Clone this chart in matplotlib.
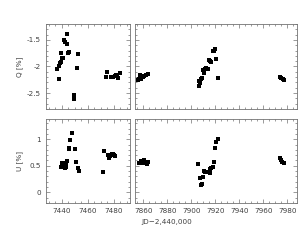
import numpy as np
import matplotlib
matplotlib.use("Agg")
import matplotlib.pyplot as plt
from matplotlib.ticker import MultipleLocator, FormatStrFormatter

# JD - 2,440,000 and polarization (%)
q_jd_a = [7436.8, 7437.9, 7437.9, 7438.9, 7439.6, 7440.2, 7439.8, 7440.9, 7442.1,
          7442.9, 7444.2, 7444.4, 7445.2, 7446.0, 7449.3, 7449.5, 7451.6, 7452.8,
          7473.8, 7474.8, 7478.2, 7479.4, 7480.7, 7481.4, 7482.4, 7483.5, 7484.5]
q_val_a = [-2.04, -2.24, -1.99, -1.94, -1.92, -1.84, -1.74, -1.84, -1.51,
           -1.53, -1.38, -1.58, -1.74, -1.72, -2.54, -2.62, -2.03, -1.77,
           -2.20, -2.10, -2.19, -2.20, -2.18, -2.16, -2.18, -2.22, -2.13]

q_jd_b = [7855.2, 7856.2, 7857.5, 7858.2, 7859.4, 7860.5, 7862.0, 7864.2,
          7906.1, 7906.9, 7906.1, 7908.1, 7908.9, 7910.3, 7909.7, 7911.1, 7912.5,
          7913.9, 7914.7, 7916.4, 7915.8, 7918.1, 7919.2, 7920.0, 7920.8, 7922.2,
          7973.6, 7975.0, 7976.4, 7977.0]
q_val_b = [-2.25, -2.23, -2.16, -2.24, -2.20, -2.17, -2.16, -2.15,
           -2.36, -2.31, -2.28, -2.24, -2.22, -2.12, -2.06, -2.04, -2.02,
           -2.04, -1.88, -1.91, -1.89, -1.71, -1.70, -1.68, -1.85, -2.21,
           -2.19, -2.22, -2.24, -2.25]

u_jd_a = [7439.4, 7440.4, 7440.2, 7440.9, 7441.7, 7441.9, 7442.4, 7443.4, 7444.0,
          7443.0, 7445.7, 7445.9, 7446.5, 7447.8, 7450.5, 7450.8, 7452.3, 7453.3,
          7471.8, 7472.8, 7475.6, 7476.3, 7477.1, 7478.4, 7479.4, 7480.4, 7481.2]
u_val_a = [0.47, 0.50, 0.55, 0.56, 0.53, 0.48, 0.45, 0.47, 0.59,
           0.56, 0.84, 0.81, 0.99, 1.11, 0.81, 0.57, 0.45, 0.40,
           0.38, 0.78, 0.70, 0.64, 0.69, 0.72, 0.73, 0.71, 0.68]

u_jd_b = [7856.7, 7858.3, 7860.0, 7860.8, 7862.5, 7863.3, 7864.2,
          7905.6, 7906.9, 7908.1, 7908.9, 7909.7, 7910.8, 7911.7, 7913.1, 7914.4,
          7915.8, 7915.3, 7916.7, 7917.8, 7918.6, 7920.0, 7920.8, 7921.9,
          7973.6, 7974.8, 7975.8, 7976.9]
u_val_b = [0.55, 0.59, 0.55, 0.60, 0.57, 0.53, 0.57,
           0.53, 0.27, 0.13, 0.16, 0.29, 0.41, 0.39, 0.38, 0.38,
           0.37, 0.44, 0.45, 0.48, 0.58, 0.83, 0.95, 1.00,
           0.65, 0.61, 0.57, 0.55]

W, H = 300, 248
fig = plt.figure(figsize=(W / 100, H / 100), dpi=100)

def box(x0, x1, y0, y1):
    return [x0 / W, 1 - y1 / H, (x1 - x0) / W, (y1 - y0) / H]

ax_qa = fig.add_axes(box(46, 129.5, 24, 109))
ax_qb = fig.add_axes(box(135, 297, 24, 109))
ax_ua = fig.add_axes(box(46, 129.5, 119, 203))
ax_ub = fig.add_axes(box(135, 297, 119, 203))

edge = "0.45"
for ax in (ax_qa, ax_qb, ax_ua, ax_ub):
    for s in ax.spines.values():
        s.set_linewidth(0.6)
        s.set_color(edge)
    ax.tick_params(which="both", direction="in", top=True, right=True,
                   width=0.5, color=edge, labelsize=5.2, labelcolor="0.25", pad=3.5)
    ax.tick_params(which="major", length=3)
    ax.tick_params(which="minor", length=1.5)
    ax.xaxis.set_major_locator(MultipleLocator(20))
    ax.xaxis.set_minor_locator(MultipleLocator(5))
    ax.yaxis.set_major_locator(MultipleLocator(0.5))
    ax.yaxis.set_minor_locator(MultipleLocator(0.1))
    ax.yaxis.set_major_formatter(FormatStrFormatter("%g"))

ax_qa.plot(q_jd_a, q_val_a, "s", color="black", ms=2.6, mew=0)
ax_qb.plot(q_jd_b, q_val_b, "s", color="black", ms=2.6, mew=0)
ax_ua.plot(u_jd_a, u_val_a, "s", color="black", ms=2.6, mew=0)
ax_ub.plot(u_jd_b, u_val_b, "s", color="black", ms=2.6, mew=0)

for ax in (ax_qa, ax_ua):
    ax.set_xlim(7428, 7492)
for ax in (ax_qb, ax_ub):
    ax.set_xlim(7853, 7988)
    ax.tick_params(labelleft=False)
for ax in (ax_qa, ax_qb):
    ax.set_ylim(-2.8, -1.2)
    ax.tick_params(labelbottom=False)
for ax in (ax_ua, ax_ub):
    ax.set_ylim(-0.2, 1.38)

fig.text(20 / W, 1 - 66.5 / H, "Q [%]", rotation=90, ha="center", va="center",
         fontsize=5.2, color="0.25")
fig.text(20 / W, 1 - 161 / H, "U [%]", rotation=90, ha="center", va="center",
         fontsize=5.2, color="0.25")
fig.text(167 / W, 1 - 222 / H, "JD\u22122,440,000", ha="center", va="center",
         fontsize=5.2, color="0.25")

fig.savefig("out.png", dpi=100)
